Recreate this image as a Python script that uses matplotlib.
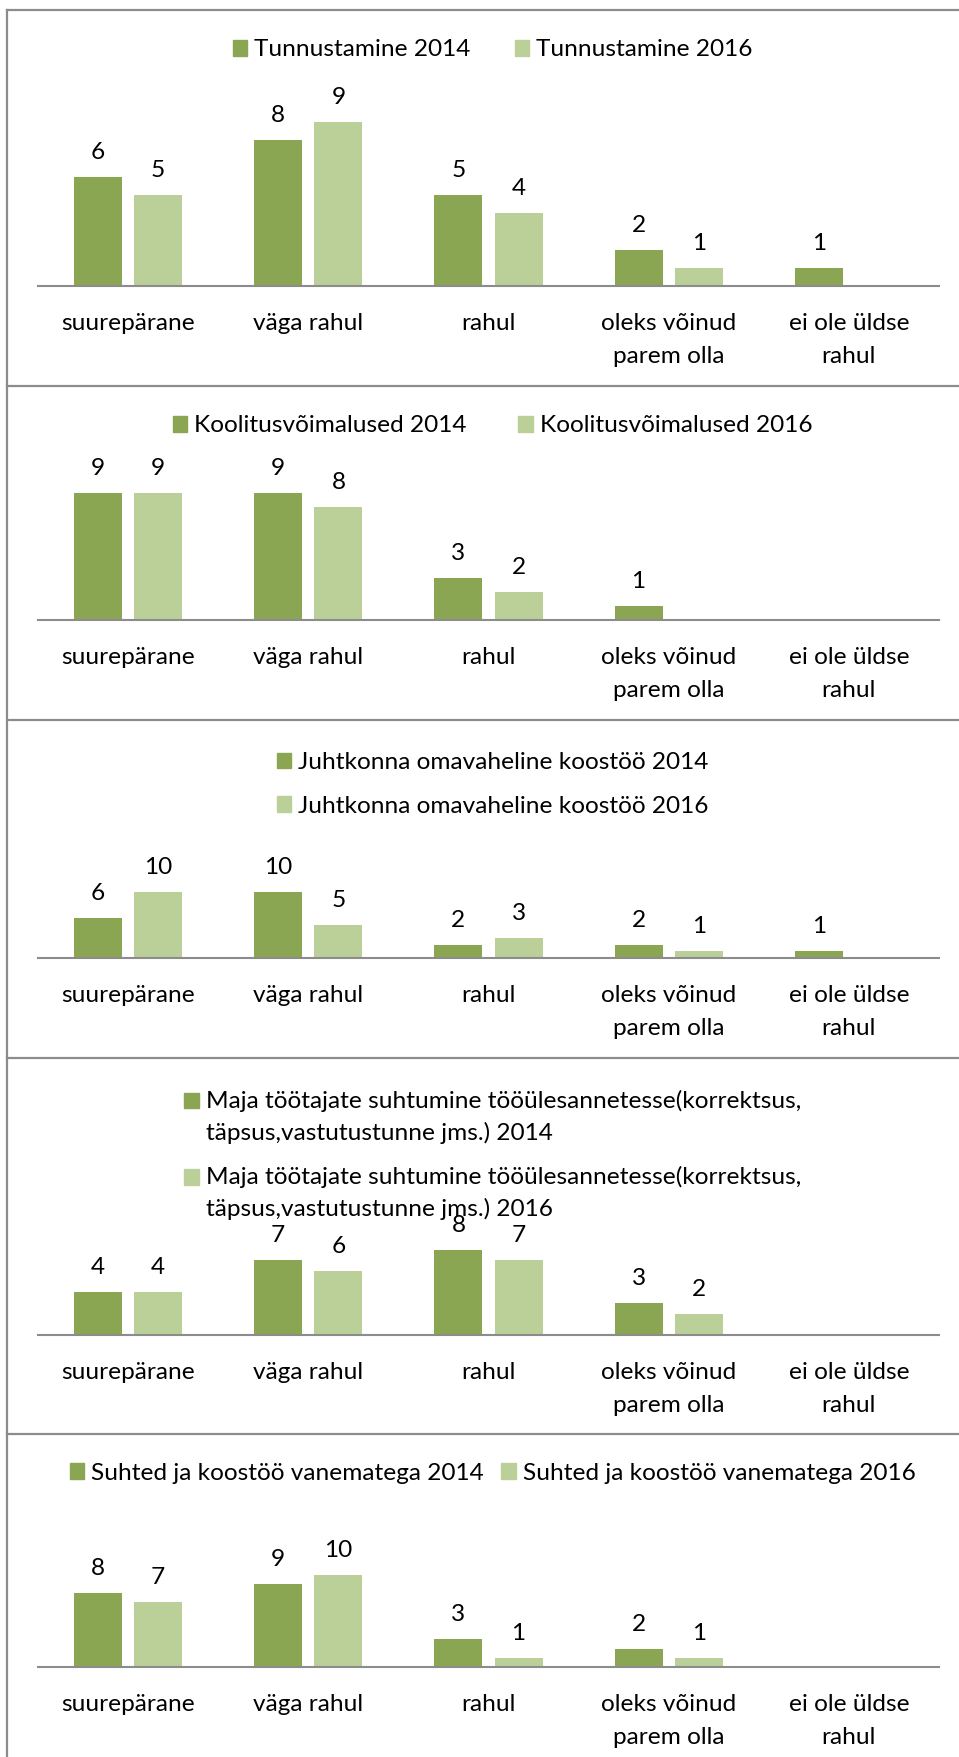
import matplotlib
matplotlib.use("Agg")
import matplotlib.pyplot as plt
import numpy as np
from matplotlib.lines import Line2D
from matplotlib.patches import Patch, Rectangle
from matplotlib.legend_handler import HandlerPatch

plt.rcParams["font.family"] = ["Lato", "DejaVu Sans"]

categories = ["suurepärane", "väga rahul", "rahul",
              "oleks võinud\nparem olla", "ei ole üldse\nrahul"]

# one pair of series per panel (None = empty cell, no bar, no label)
tunnustamine_2014 = [6, 8, 5, 2, 1]
tunnustamine_2016 = [5, 9, 4, 1, None]
koolitus_2014 = [9, 9, 3, 1, None]
koolitus_2016 = [9, 8, 2, None, None]
juhtkond_2014 = [6, 10, 2, 2, 1]
juhtkond_2016 = [10, 5, 3, 1, None]
maja_2014 = [4, 7, 8, 3, None]
maja_2016 = [4, 6, 7, 2, None]
suhted_2014 = [8, 9, 3, 2, None]
suhted_2016 = [7, 10, 1, 1, None]

names = [
    ("Tunnustamine 2014", "Tunnustamine 2016"),
    ("Koolitusvõimalused 2014", "Koolitusvõimalused 2016"),
    ("Juhtkonna omavaheline koostöö 2014", "Juhtkonna omavaheline koostöö 2016"),
    ("Maja töötajate suhtumine tööülesannetesse(korrektsus,\ntäpsus,vastutustunne jms.) 2014",
     "Maja töötajate suhtumine tööülesannetesse(korrektsus,\ntäpsus,vastutustunne jms.) 2016"),
    ("Suhted ja koostöö vanematega 2014", "Suhted ja koostöö vanematega 2016"),
]
series = [
    (tunnustamine_2014, tunnustamine_2016),
    (koolitus_2014, koolitus_2016),
    (juhtkond_2014, juhtkond_2016),
    (maja_2014, maja_2016),
    (suhted_2014, suhted_2016),
]

# layout in pixels: baseline y, px per unit, legend centre y, ncol, column spacing
layout = [
    (286, 18.2, 50, 2, 1.8),
    (620, 14.07, 426, 2, 2.1),
    (958, 6.63, 784.5, 1, 1.0),
    (1335, 10.67, 1155, 1, 1.0),
    (1667, 9.24, 1473, 2, 0.7),
]

W, H, DPI = 959, 1757, 100
DARK = "#8BA652"
LIGHT = "#BBCF98"
GREY = "#8C8C8C"
FS = 17.6
LINE_PX = 32


def fx(px):
    return px / W


def fy(py):
    return 1 - py / H


def upper_square(legend, orig_handle, xdescent, ydescent, width, height, fontsize):
    # align the square with the first line of a two-line label
    shift = 0.5 * LINE_PX * 72 / DPI
    return Rectangle((-xdescent, -ydescent + shift), width, height)


fig = plt.figure(figsize=(W / DPI, H / DPI), dpi=DPI)
fig.patch.set_facecolor("white")

# chart borders
fig.add_artist(Line2D([fx(7), fx(7)], [fy(10), 0], transform=fig.transFigure,
                      color=GREY, lw=1.6))
for y in [10, 386, 720, 1058, 1434]:
    fig.add_artist(Line2D([fx(7), 1], [fy(y), fy(y)], transform=fig.transFigure,
                          color=GREY, lw=1.6))

x = np.arange(len(categories))
for (a, b), (n1, n2), (base, pxu, ly, ncol, cs) in zip(series, names, layout):
    ax = fig.add_axes([fx(38), fy(base), fx(939) - fx(38), 12 * pxu / H])
    ax.patch.set_visible(False)
    va = np.array([np.nan if v is None else v for v in a], float)
    vb = np.array([np.nan if v is None else v for v in b], float)
    ax.bar(x - 0.167, va, 0.267, color=DARK)
    ax.bar(x + 0.167, vb, 0.267, color=LIGHT)
    for xs, vals in ((x - 0.167, a), (x + 0.167, b)):
        for xi, v in zip(xs, vals):
            if v is not None:
                ax.annotate(str(v), (xi, v), xytext=(0, 18), textcoords="offset pixels",
                            ha="center", va="baseline", fontsize=FS, color="black")
    ax.set_xlim(-0.5, 4.5)
    ax.set_ylim(0, 12)
    ax.set_yticks([])
    ax.set_xticks(x)
    ax.set_xticklabels(categories, fontsize=FS, linespacing=1.7)
    ax.tick_params(axis="x", length=0, pad=19.5)
    for s in ("top", "left", "right"):
        ax.spines[s].set_visible(False)
    ax.spines["bottom"].set_color(GREY)
    ax.spines["bottom"].set_linewidth(1.5)

    handles = [Patch(color=DARK), Patch(color=LIGHT)]
    kw = {}
    if "\n" in n1:
        kw["handler_map"] = {Patch: HandlerPatch(patch_func=upper_square)}
    leg = ax.legend(handles, [n1, n2], loc="center", ncol=ncol,
                    bbox_to_anchor=(fx(492.5), fy(ly)), bbox_transform=fig.transFigure,
                    frameon=False, fontsize=FS, borderpad=0, handlelength=0.6,
                    handleheight=0.6, handletextpad=0.28, columnspacing=cs,
                    labelspacing=0.92, **kw)
    for t in leg.get_texts():
        t.set_linespacing(1.55)

fig.savefig("out.png", dpi=DPI)
